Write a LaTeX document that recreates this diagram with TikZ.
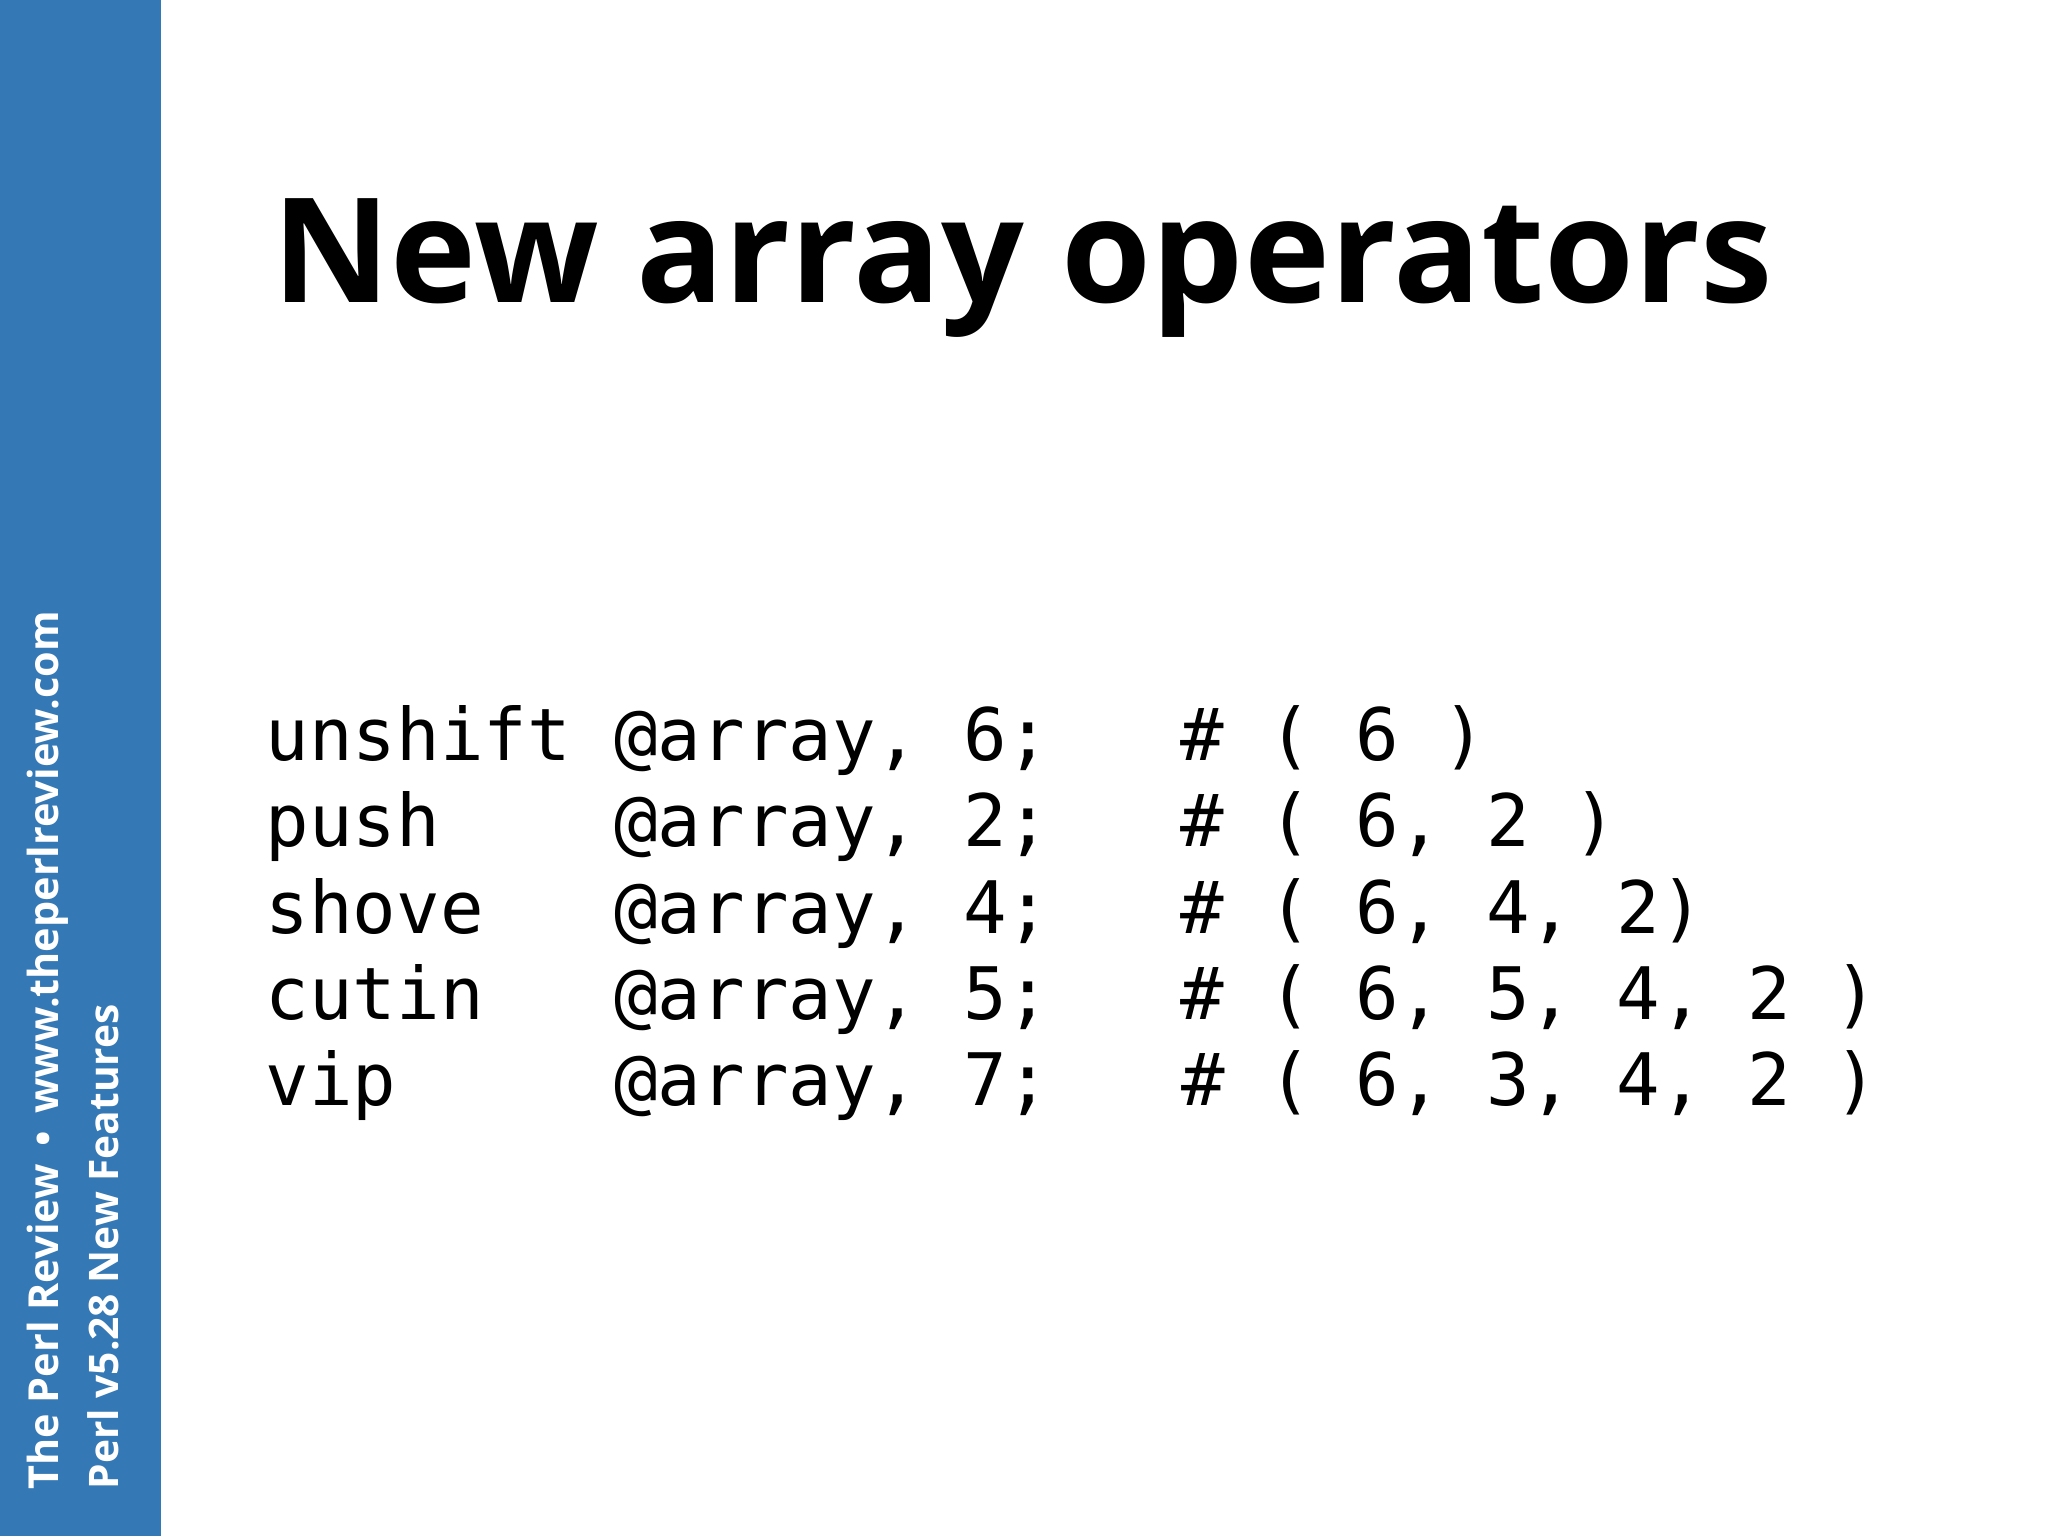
\documentclass[tikz,border=0pt]{standalone}
\usepackage{fontspec}
\setmainfont{Open Sans}
\setmonofont{DejaVu Sans Mono}
\definecolor{side}{HTML}{3479B5}
\begin{document}
\begin{tikzpicture}[x=1cm,y=-1cm,
  code/.style={anchor=base west,inner sep=0pt,font=\ttfamily\fontsize{20.6}{24}\selectfont}]
\useasboundingbox (0,0) rectangle (20.48,15.36);
\fill[side] (0,0) rectangle (1.61,15.36);
\node[anchor=base west,inner sep=0pt,rotate=90,text=white] (s1) at (0.59,14.9)
  {\resizebox{8.78cm}{!}{\bfseries The Perl Review \,•\, www.theperlreview.com}};
\node[anchor=base west,inner sep=0pt,rotate=90,text=white] (s2) at (1.18,14.9)
  {\resizebox{4.85cm}{!}{\bfseries Perl v5.28 New Features}};
\node[anchor=base west,inner sep=0pt] (title) at (2.72,3.03)
  {\resizebox{15.0cm}{!}{\bfseries\fontsize{50}{60}\selectfont New array operators}};
\node[code] (l1) at (2.65,7.61) {unshift @array, 6;\ \ \ \# ( 6 )};
\node[code] (l2) at (2.65,8.47) {push\ \ \ \ @array, 2;\ \ \ \# ( 6, 2 )};
\node[code] (l3) at (2.65,9.33) {shove\ \ \ @array, 4;\ \ \ \# ( 6, 4, 2)};
\node[code] (l4) at (2.65,10.19) {cutin\ \ \ @array, 5;\ \ \ \# ( 6, 5, 4, 2 )};
\node[code] (l5) at (2.65,11.05) {vip\ \ \ \ \ @array, 7;\ \ \ \# ( 6, 3, 4, 2 )};
\end{tikzpicture}
\end{document}
